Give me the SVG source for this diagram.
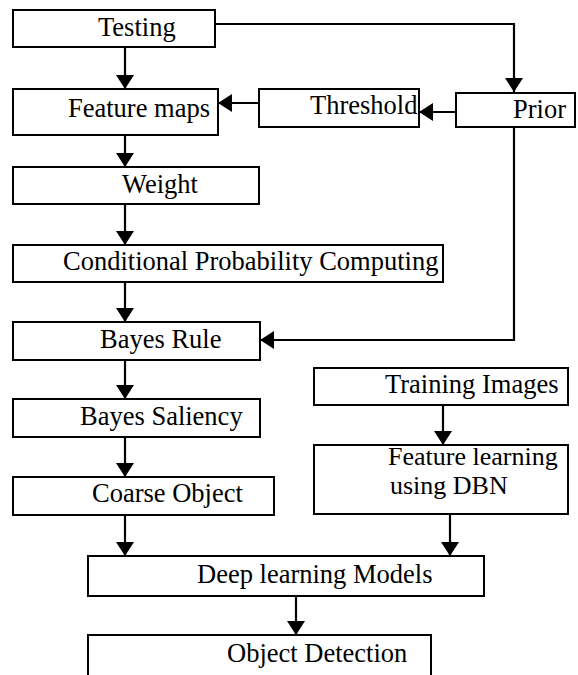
<svg xmlns="http://www.w3.org/2000/svg" width="578" height="675" viewBox="0 0 578 675">
<style>
.box{fill:#fff;stroke:#000;stroke-width:2}
.lbl{font-family:'Liberation Serif','Times New Roman',serif;font-size:26.5px;fill:#000}
.lbl2{font-size:26px}
.conn{fill:none;stroke:#000;stroke-width:2.2}
</style>
<defs>
<marker id="ah" viewBox="0 0 14 18" refX="14" refY="9" markerWidth="14" markerHeight="18" markerUnits="userSpaceOnUse" orient="auto">
<path d="M0,0 L14,9 L0,18 z" fill="#000"/>
</marker>
</defs>
<rect width="578" height="675" fill="#fff"/>
<g id="connectors">
<path class="conn" d="M215,24 H514 V92" marker-end="url(#ah)"/>
<path class="conn" d="M125,47 V89" marker-end="url(#ah)"/>
<path class="conn" d="M456,112 H419" marker-end="url(#ah)"/>
<path class="conn" d="M259,103 H218" marker-end="url(#ah)"/>
<path class="conn" d="M125,135 V167" marker-end="url(#ah)"/>
<path class="conn" d="M125,204 V245" marker-end="url(#ah)"/>
<path class="conn" d="M125,282 V322" marker-end="url(#ah)"/>
<path class="conn" d="M514,127 V340 H260" marker-end="url(#ah)"/>
<path class="conn" d="M125,360 V399" marker-end="url(#ah)"/>
<path class="conn" d="M125,437 V477" marker-end="url(#ah)"/>
<path class="conn" d="M125,515 V556" marker-end="url(#ah)"/>
<path class="conn" d="M443,405 V445" marker-end="url(#ah)"/>
<path class="conn" d="M450,514 V556" marker-end="url(#ah)"/>
<path class="conn" d="M296,596 V635" marker-end="url(#ah)"/>
</g>
<g id="testing"><rect class="box" x="13" y="10" width="202" height="37"/><text class="lbl" x="98" y="36">Testing</text></g>
<g id="feature-maps"><rect class="box" x="13" y="89" width="205" height="46"/><text class="lbl" x="68" y="117">Feature maps</text></g>
<g id="threshold"><rect class="box" x="259" y="89" width="160" height="38"/><text class="lbl" x="310" y="114">Threshold</text></g>
<g id="prior"><rect class="box" x="456" y="93" width="119" height="34"/><text class="lbl" x="513" y="118">Prior</text></g>
<g id="weight"><rect class="box" x="13" y="167" width="246" height="37"/><text class="lbl" x="122" y="193">Weight</text></g>
<g id="cond-prob"><rect class="box" x="13" y="245" width="430" height="37"/><text class="lbl" x="63" y="270">Conditional Probability Computing</text></g>
<g id="bayes-rule"><rect class="box" x="13" y="322" width="247" height="38"/><text class="lbl" x="100" y="348">Bayes Rule</text></g>
<g id="bayes-saliency"><rect class="box" x="13" y="399" width="247" height="38"/><text class="lbl" x="80" y="425">Bayes Saliency</text></g>
<g id="coarse-object"><rect class="box" x="13" y="477" width="261" height="38"/><text class="lbl" x="92" y="502">Coarse Object</text></g>
<g id="training-images"><rect class="box" x="314" y="368" width="254" height="37"/><text class="lbl" x="385" y="393">Training Images</text></g>
<g id="feature-learning"><rect class="box" x="314" y="445" width="254" height="69"/><text class="lbl lbl2" x="388" y="465">Feature learning</text><text class="lbl lbl2" x="390" y="494">using DBN</text></g>
<g id="deep-learning"><rect class="box" x="88" y="556" width="396" height="40"/><text class="lbl" x="197" y="583">Deep learning Models</text></g>
<g id="object-detection"><rect class="box" x="88" y="635" width="343" height="60"/><text class="lbl" x="227" y="662">Object Detection</text></g>
</svg>
